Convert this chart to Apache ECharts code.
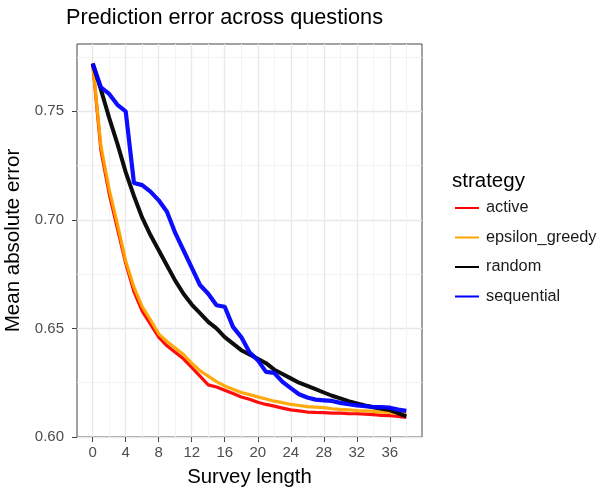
<!DOCTYPE html>
<html>
<head>
<meta charset="utf-8">
<script src="https://cdn.jsdelivr.net/npm/echarts@6/dist/echarts.min.js"></script>
<style>
html,body{margin:0;padding:0;background:#fff;}
#chart{width:598px;height:490px;}
</style>
</head>
<body>
<div id="chart"></div>
<script>
var surveyLength = [];
for (var i = 0; i <= 38; i++) surveyLength.push(i);

var active = [0.772,0.732,0.712,0.696,0.680,0.667,0.658,0.652,0.646,0.642,0.639,0.636,0.632,0.628,0.624,0.623,0.6215,0.620,0.6184,0.6174,0.616,0.615,0.6142,0.6133,0.6125,0.612,0.6115,0.6113,0.6112,0.611,0.611,0.6108,0.6107,0.6105,0.6103,0.610,0.6098,0.6095,0.609];
var epsilonGreedy = [0.772,0.734,0.714,0.698,0.681,0.669,0.660,0.654,0.6475,0.644,0.641,0.638,0.634,0.6305,0.628,0.6255,0.6235,0.622,0.6205,0.6195,0.6185,0.6175,0.6165,0.6158,0.615,0.6145,0.614,0.6138,0.6135,0.613,0.6127,0.6125,0.6122,0.612,0.6118,0.6115,0.6113,0.611,0.6105];
var random = [0.772,0.760,0.747,0.735,0.722,0.711,0.701,0.693,0.686,0.679,0.672,0.666,0.661,0.657,0.653,0.650,0.646,0.643,0.640,0.638,0.636,0.634,0.631,0.629,0.627,0.625,0.6235,0.622,0.6205,0.619,0.6178,0.6165,0.6155,0.6145,0.6137,0.613,0.6124,0.611,0.6095];
var sequential = [0.772,0.761,0.758,0.753,0.750,0.717,0.716,0.713,0.709,0.7037,0.694,0.686,0.678,0.670,0.666,0.6607,0.660,0.6507,0.646,0.639,0.6354,0.630,0.6295,0.6254,0.6225,0.6197,0.6182,0.6172,0.6169,0.6166,0.6157,0.6151,0.6146,0.6142,0.6138,0.6138,0.6135,0.6126,0.612];

var xMajor = [0,4,8,12,16,20,24,28,32,36];
var xMinor = [2,6,10,14,18,22,26,30,34,38];
var yMajor = [0.60,0.65,0.70,0.75];
var yMinor = [0.625,0.675,0.725,0.775];

var seriesNames = ['active','epsilon_greedy','random','sequential'];
var seriesColors = ['#ff0000','#ffa500','#000000','#0000ff'];
var seriesWidths = [3.2,3.2,4,4.2];
var seriesValues = [active, epsilonGreedy, random, sequential];

var chart = echarts.init(document.getElementById('chart'), null, {renderer:'canvas'});
var FONT = 'Liberation Sans, Arial, Helvetica, sans-serif';

var xRange = {min:-1.9, max:39.9};
var yRange = {min:0.60, max:0.781};

function gridAxisX(vals, color, w){
  return {type:'value', min:xRange.min, max:xRange.max, gridIndex:0, position:'bottom',
    axisLine:{show:false, onZero:false}, axisTick:{show:false, customValues:vals}, axisLabel:{show:false, customValues:vals},
    splitLine:{show:true, lineStyle:{color:color, width:w}}};
}
function gridAxisY(vals, color, w){
  return {type:'value', min:yRange.min, max:yRange.max, gridIndex:0, position:'left',
    axisLine:{show:false, onZero:false}, axisTick:{show:false, customValues:vals}, axisLabel:{show:false, customValues:vals},
    splitLine:{show:true, lineStyle:{color:color, width:w}}};
}

var series = seriesNames.map(function(name, k){
  return {
    name:name, type:'line', xAxisIndex:2, yAxisIndex:2,
    data: surveyLength.map(function(x, j){ return [x, seriesValues[k][j]]; }),
    symbol:'none', smooth:false,
    lineStyle:{color:seriesColors[k], width:seriesWidths[k], opacity:0.95},
    itemStyle:{color:seriesColors[k]},
    z: 5 + k
  };
});

chart.setOption({
  animation:false,
  backgroundColor:'#ffffff',
  title:[
    {text:'Prediction error across questions', left:66, top:7, padding:0,
     textStyle:{fontFamily:FONT, fontSize:21.7, fontWeight:'normal', color:'#000'}},
    {text:'strategy', left:452, top:171, padding:0,
     textStyle:{fontFamily:FONT, fontSize:20.5, fontWeight:'normal', color:'#000'}}
  ],
  grid:{left:77, right:176, top:44, bottom:53, show:true, borderColor:'#444444', borderWidth:1,
        backgroundColor:'transparent', containLabel:false, outerBoundsMode:'none'},
  legend:{
    orient:'vertical', left:455, top:200, padding:0,
    itemWidth:24, itemHeight:16, itemGap:13.5,
    data:seriesNames,
    textStyle:{fontFamily:FONT, fontSize:16.3, color:'#1a1a1a', padding:[0,0,0,2]},
    lineStyle:{width:2, opacity:0.65},
    icon:'path://M0,7 L24,7 L24,9 L0,9 Z'
  },
  xAxis:[
    gridAxisX(xMinor, '#f3f3f3', 1),
    gridAxisX(xMajor, '#e8e8e8', 1.3),
    {type:'value', min:xRange.min, max:xRange.max, gridIndex:0, position:'bottom',
     name:'Survey length', nameLocation:'middle', nameGap:30,
     nameTextStyle:{fontFamily:FONT, fontSize:20.4, color:'#000'},
     axisLine:{show:false, onZero:false},
     axisTick:{show:true, customValues:xMajor, length:5, lineStyle:{color:'#444444'}},
     axisLabel:{show:true, customValues:xMajor, fontFamily:FONT, fontSize:15, color:'#4d4d4d', margin:8},
     splitLine:{show:false}}
  ],
  yAxis:[
    gridAxisY(yMinor, '#f3f3f3', 1),
    gridAxisY(yMajor, '#e8e8e8', 1.3),
    {type:'value', min:yRange.min, max:yRange.max, gridIndex:0, position:'left',
     name:'Mean absolute error', nameLocation:'middle', nameGap:47,
     nameTextStyle:{fontFamily:FONT, fontSize:20.5, color:'#000'},
     axisLine:{show:false, onZero:false},
     axisTick:{show:true, customValues:yMajor, length:5, lineStyle:{color:'#444444'}},
     axisLabel:{show:true, customValues:yMajor, fontFamily:FONT, fontSize:15, color:'#4d4d4d', margin:13,
       formatter:function(v){return v.toFixed(2);}},
     splitLine:{show:false}}
  ],
  series:series
});
</script>
</body>
</html>
